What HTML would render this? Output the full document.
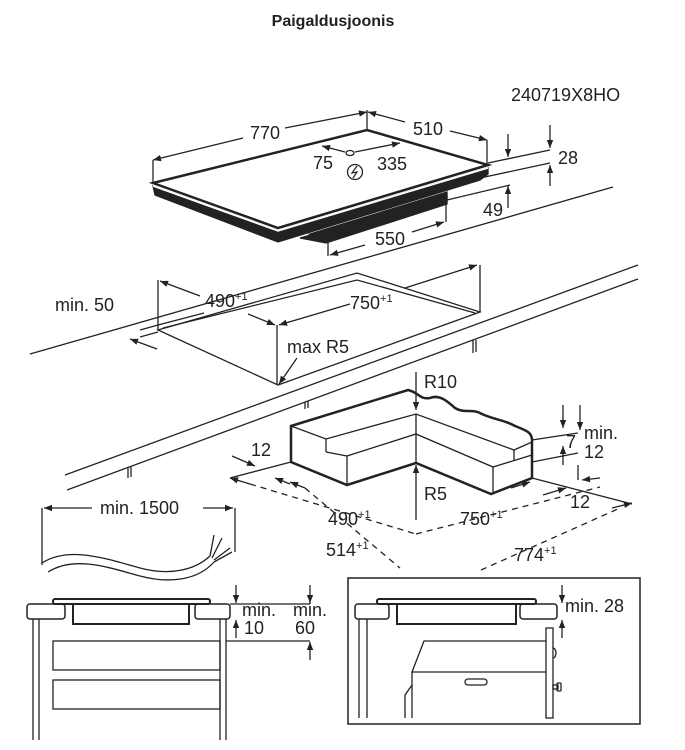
<!DOCTYPE html>
<html><head><meta charset="utf-8"><style>
html,body{margin:0;padding:0;background:#fff;}
svg{display:block;}
text{font-family:"Liberation Sans",sans-serif;fill:#222;}
</style></head><body>
<svg width="685" height="750" viewBox="0 0 685 750" xmlns="http://www.w3.org/2000/svg">
<defs>
<marker id="a" viewBox="0 0 10 10" refX="10" refY="5" markerWidth="11" markerHeight="8" orient="auto-start-reverse" markerUnits="userSpaceOnUse"><path d="M0,1 L10,5 L0,9 z" fill="#222"/></marker>
</defs>
<text x="333" y="26" font-size="16" font-weight="bold" text-anchor="middle" fill="#000">Paigaldusjoonis</text>
<text x="511" y="101" font-size="18">240719X8HO</text>

<g stroke="#222" fill="none" stroke-width="1.3">
<!-- hob -->
<polygon points="153,186 278,231 488,168 488,174 480,180 278,242 155,195" fill="#222"/>
<polygon points="310,234 447,192 447,202 328,238" fill="#222"/>
<polygon points="300,238 447,196 447,204 326,243" fill="#222"/>
<polygon points="153,183 367,130 488,165 278,228" fill="#fff" stroke-width="2.5"/>
<polyline points="153,186 278,231 488,168" stroke="#fff" stroke-width="1.5"/>
<!-- 770 / 510 -->
<line x1="153" y1="160" x2="153" y2="183"/>
<line x1="367" y1="110" x2="367" y2="130"/>
<line x1="487" y1="140" x2="487" y2="165"/>
<line x1="153" y1="160" x2="243" y2="138" marker-start="url(#a)"/>
<line x1="285" y1="128" x2="367" y2="112" marker-end="url(#a)"/>
<line x1="368" y1="112" x2="405" y2="122" marker-start="url(#a)"/>
<line x1="450" y1="131" x2="487" y2="140" marker-end="url(#a)"/>
<!-- 75/335 -->
<line x1="322" y1="146" x2="345" y2="152" marker-start="url(#a)"/>
<ellipse cx="350" cy="153" rx="4" ry="2.5"/>
<line x1="355" y1="152" x2="400" y2="143" marker-end="url(#a)"/>
<circle cx="355" cy="172" r="7.5"/>
<path d="M357,166 L352,173 L357,172 L353,178" stroke-width="1.2"/>
<!-- 28 -->
<line x1="488" y1="163" x2="550" y2="150"/>
<line x1="480" y1="178" x2="550" y2="163"/>
<line x1="508" y1="134" x2="508" y2="157" marker-end="url(#a)"/>
<line x1="550" y1="125" x2="550" y2="148" marker-end="url(#a)"/>
<line x1="550" y1="186" x2="550" y2="165" marker-end="url(#a)"/>
<!-- 49 -->
<line x1="447" y1="200" x2="510" y2="185"/>
<line x1="508" y1="208" x2="508" y2="186" marker-end="url(#a)"/>
<!-- 550 -->
<line x1="328" y1="236" x2="328" y2="256"/>
<line x1="446" y1="200" x2="446" y2="222"/>
<line x1="330" y1="255" x2="365" y2="245" marker-start="url(#a)"/>
<line x1="412" y1="232" x2="444" y2="222" marker-end="url(#a)"/>

<!-- worktop -->
<line x1="30" y1="354" x2="613" y2="187"/>
<line x1="65" y1="475" x2="638" y2="265"/>
<line x1="67" y1="490" x2="638" y2="279"/>
<line x1="128" y1="468" x2="128" y2="478"/><line x1="131" y1="467" x2="131" y2="477"/>
<line x1="473" y1="340" x2="473" y2="353"/><line x1="476" y1="340" x2="476" y2="352"/>
<line x1="305" y1="402" x2="305" y2="409"/><line x1="308" y1="401" x2="308" y2="408"/>
<!-- cutout -->
<polygon points="158,330 357,273 480,312 278,385"/>
<polyline points="163,328 357,280 475,313"/>
<polyline points="140,330 158,325 204,313"/>
<polyline points="140,337 158,332"/>
<line x1="158" y1="280" x2="158" y2="330"/>
<line x1="480" y1="265" x2="480" y2="312"/>
<line x1="277" y1="325" x2="277" y2="385"/>
<line x1="160" y1="281" x2="200" y2="296" marker-start="url(#a)"/>
<line x1="248" y1="314" x2="275" y2="325" marker-end="url(#a)"/>
<line x1="279" y1="325" x2="350" y2="304" marker-start="url(#a)"/>
<line x1="405" y1="288" x2="477" y2="265" marker-end="url(#a)"/>
<line x1="297" y1="358" x2="279" y2="384" marker-end="url(#a)"/>
<line x1="157" y1="349" x2="130" y2="339" marker-end="url(#a)"/>

<!-- corner box -->
<path d="M291,426 L408,390 C418,392 420,400 430,398 C440,394 448,402 455,408 C465,414 472,408 482,414 C495,420 505,420 515,426 C525,430 532,432 532,440 L532,478 L491,494 L416,463 L347,485 L291,462 Z" stroke-width="2.5" fill="#fff"/>
<polyline points="291,426 326,439 416,414 514,450 532,442"/>
<polyline points="326,439 326,452"/>
<polyline points="347,456 416,434 493,467 532,455"/>
<line x1="326" y1="452" x2="347" y2="456"/>
<line x1="347" y1="456" x2="347" y2="485"/>
<line x1="493" y1="467" x2="493" y2="494"/>
<line x1="514" y1="450" x2="514" y2="460"/>
<line x1="416" y1="414" x2="416" y2="463"/>
<line x1="416" y1="372" x2="416" y2="410" marker-end="url(#a)"/>
<line x1="416" y1="520" x2="416" y2="465" marker-end="url(#a)"/>
<!-- dims around box -->
<line x1="230" y1="478" x2="291" y2="462"/>
<line x1="532" y1="440" x2="578" y2="433"/>
<line x1="532" y1="462" x2="578" y2="453"/>
<line x1="532" y1="478" x2="632" y2="504"/>
<line x1="232" y1="456" x2="255" y2="466" marker-end="url(#a)"/>
<line x1="563" y1="405" x2="563" y2="428" marker-end="url(#a)"/>
<line x1="580" y1="405" x2="580" y2="430" marker-end="url(#a)"/>
<line x1="563" y1="465" x2="563" y2="446" marker-end="url(#a)"/>
<line x1="578" y1="465" x2="578" y2="480"/>
<line x1="600" y1="478" x2="582" y2="480" marker-end="url(#a)"/>
<line x1="275" y1="478" x2="290" y2="484" marker-start="url(#a)"/>
<line x1="290" y1="482" x2="305" y2="488" marker-start="url(#a)"/>
<line x1="511" y1="488" x2="530" y2="482" marker-end="url(#a)"/>
<line x1="543" y1="495" x2="566" y2="488" marker-end="url(#a)"/>
<line x1="230" y1="478" x2="250" y2="484" marker-start="url(#a)"/>
<g stroke-dasharray="6,5">
<line x1="250" y1="484" x2="416" y2="534"/>
<line x1="416" y1="534" x2="600" y2="487"/>
<line x1="305" y1="488" x2="400" y2="568"/>
<line x1="481" y1="570" x2="620" y2="508"/>
</g>
<line x1="612" y1="508" x2="632" y2="503" marker-end="url(#a)"/>

<!-- cable -->
<line x1="42" y1="508" x2="42" y2="565"/>
<line x1="235" y1="508" x2="235" y2="552"/>
<line x1="44" y1="508" x2="92" y2="508" marker-start="url(#a)"/>
<line x1="203" y1="508" x2="233" y2="508" marker-end="url(#a)"/>
<path d="M42,563 C70,545 110,560 140,568 C170,576 195,570 210,556"/>
<path d="M48,572 C75,555 110,568 140,576 C170,584 198,580 214,562"/>
<path d="M210,556 L214,535 M212,558 L222,538 M214,560 L230,548 M214,562 L232,552"/>

<!-- bottom-left -->
<rect x="53" y="599" width="157" height="5" rx="2" stroke-width="2"/>
<rect x="27" y="604" width="38" height="15" rx="3" stroke-width="1.5"/>
<rect x="195" y="604" width="35" height="15" rx="3" stroke-width="1.5"/>
<polyline points="73,604 73,624 189,624 189,604" stroke-width="2"/>
<line x1="33" y1="619" x2="33" y2="740"/><line x1="39" y1="619" x2="39" y2="740"/>
<line x1="220" y1="619" x2="220" y2="740"/><line x1="226" y1="619" x2="226" y2="740"/>
<rect x="53" y="641" width="167" height="29"/>
<rect x="53" y="680" width="167" height="29"/>
<line x1="230" y1="604" x2="310" y2="604"/>
<line x1="226" y1="641" x2="310" y2="641"/>
<line x1="236" y1="585" x2="236" y2="603" marker-end="url(#a)"/>
<line x1="236" y1="638" x2="236" y2="620" marker-end="url(#a)"/>
<line x1="310" y1="585" x2="310" y2="603" marker-end="url(#a)"/>
<line x1="310" y1="660" x2="310" y2="642" marker-end="url(#a)"/>

<!-- bottom-right -->
<rect x="348" y="578" width="292" height="146" stroke-width="1.5"/>
<rect x="377" y="599" width="159" height="5" rx="2" stroke-width="2"/>
<rect x="355" y="604" width="34" height="15" rx="3" stroke-width="1.5"/>
<rect x="520" y="604" width="37" height="15" rx="3" stroke-width="1.5"/>
<polyline points="397,604 397,624 516,624 516,604" stroke-width="2"/>
<line x1="359" y1="619" x2="359" y2="718"/><line x1="367" y1="619" x2="367" y2="718"/>
<rect x="546" y="628" width="7" height="90"/>
<polyline points="546,641 424,641 412,672 546,672"/>
<line x1="412" y1="672" x2="412" y2="718"/>
<polyline points="412,685 405,695 405,718"/>
<rect x="465" y="679" width="22" height="6" rx="3"/>
<path d="M553,648 a3,5 0 0 1 0,10"/>
<rect x="553" y="685" width="5" height="4"/><rect x="557" y="683" width="4" height="8" rx="1"/>
<line x1="562" y1="585" x2="562" y2="603" marker-end="url(#a)"/>
<line x1="562" y1="638" x2="562" y2="620" marker-end="url(#a)"/>
</g>

<g font-size="18">
<text x="265" y="139" text-anchor="middle">770</text>
<text x="428" y="135" text-anchor="middle">510</text>
<text x="323" y="169" text-anchor="middle">75</text>
<text x="392" y="170" text-anchor="middle">335</text>
<text x="558" y="164">28</text>
<text x="493" y="216" text-anchor="middle">49</text>
<text x="390" y="245" text-anchor="middle">550</text>
<text x="55" y="311">min. 50</text>
<text x="205" y="307">490<tspan font-size="11" dy="-7">+1</tspan></text>
<text x="350" y="309">750<tspan font-size="11" dy="-7">+1</tspan></text>
<text x="287" y="353">max R5</text>
<text x="424" y="388">R10</text>
<text x="424" y="500">R5</text>
<text x="251" y="456">12</text>
<text x="584" y="439">min.</text>
<text x="584" y="458">12</text>
<text x="566" y="448">7</text>
<text x="570" y="508">12</text>
<text x="328" y="525">490<tspan font-size="11" dy="-7">+1</tspan></text>
<text x="460" y="525">750<tspan font-size="11" dy="-7">+1</tspan></text>
<text x="326" y="556">514<tspan font-size="11" dy="-7">+1</tspan></text>
<text x="514" y="561">774<tspan font-size="11" dy="-7">+1</tspan></text>
<text x="100" y="514">min. 1500</text>
<text x="242" y="616">min.</text>
<text x="244" y="634">10</text>
<text x="293" y="616">min.</text>
<text x="295" y="634">60</text>
<text x="565" y="612">min. 28</text>
</g>
</svg>
</body></html>
